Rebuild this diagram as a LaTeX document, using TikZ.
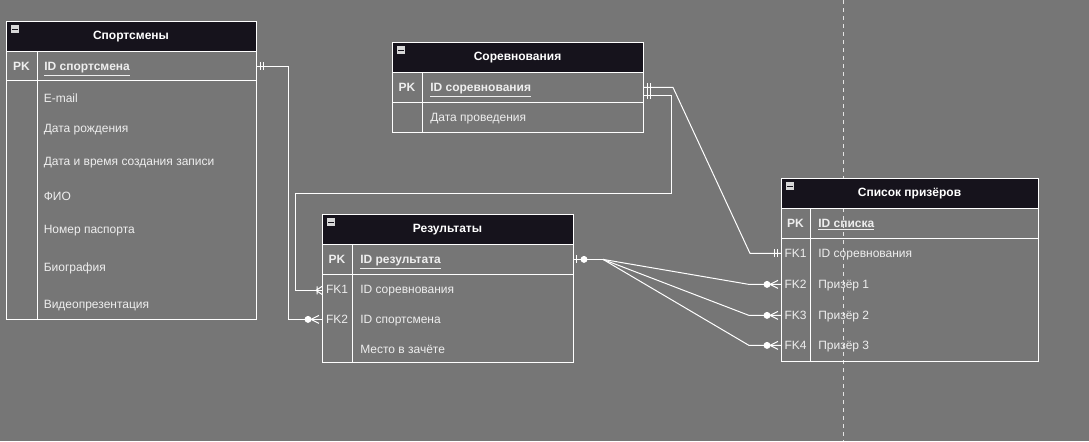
\documentclass[tikz,border=0pt]{standalone}
\usepackage{fontspec}
\setmainfont{Liberation Sans}
\usetikzlibrary{calc}
\definecolor{bggray}{RGB}{118,118,118}
\definecolor{hdrdark}{RGB}{22,19,28}
\definecolor{txtlight}{RGB}{238,238,238}
\definecolor{icongray}{RGB}{215,215,215}
\tikzset{
  tbl/.style={draw=white, line width=0.75pt},
  rel/.style={draw=white, line width=0.75pt},
  tbltitle/.style={font=\bfseries\fontsize{9}{11}\selectfont, text=white, inner sep=0pt},
  attr/.style={anchor=west, font=\fontsize{9}{11}\selectfont, text=txtlight, inner sep=0pt, text height=6.5pt, text depth=0pt},
  keylbl/.style={font=\bfseries\fontsize{9}{11}\selectfont, text=txtlight, inner sep=0pt, text height=6.5pt, text depth=0pt},
  fklbl/.style={keylbl, font=\fontsize{9}{11}\selectfont},
  mini/.pic={\fill[icongray] (5,4) rectangle (13,12); \fill[hdrdark] (6.3,7.3) rectangle (11.7,8.7);},
  mandone/.pic={\draw[rel] (4,-4) -- (4,4) (7,-4) -- (7,4);},
  zeroone/.pic={\draw[rel] (3,-4) -- (3,4); \fill[white] (11,0) circle [radius=2.6pt];},
  onemany/.pic={\draw[rel] (5,-4) -- (5,4) (6,0) -- (0,-4) (6,0) -- (0,4);},
  zeromany/.pic={\fill[white] (14,0) circle [radius=2.6pt]; \draw[rel] (11,0) -- (3,-4) (11,0) -- (3,4);}
}
\begin{document}
\begin{tikzpicture}[x=0.75pt,y=-0.75pt]
\fill[bggray] (0,0) rectangle (1089,441);
\draw[white!80!bggray, line width=0.6pt, dash pattern=on 3pt off 3pt] (843,0) -- (843,441);

% Спортсмены
\fill[hdrdark] (6,21) rectangle (256,51);
\draw[tbl] (6,21) rectangle (256,319) (6,51) -- (256,51) (6,80) -- (256,80) (37,51) -- (37,319);
\pic at (6,21) {mini};
\node[tbltitle] (sp-t) at (131,36) {Спортсмены};
\node[keylbl] (sp-pkl) at (21.5,66) {PK};
\node[attr] (sp-id) at (44,66) {\bfseries\underline{ID спортсмена}};
\foreach \t/\y [count=\i] in {E-mail/98, Дата рождения/128, Дата и время создания записи/161, ФИО/196, Номер паспорта/229, Биография/267, Видеопрезентация/304}
  \node[attr] (sp-a\i) at (43.5,\y) {\t};
\coordinate (sp-pk) at (256,66);

% Соревнования
\fill[hdrdark] (392,42) rectangle (643,72);
\draw[tbl] (392,42) rectangle (643,132) (392,72) -- (643,72) (392,102) -- (643,102) (422,72) -- (422,132);
\pic at (392,42) {mini};
\node[tbltitle] (sor-t) at (517.5,57) {Соревнования};
\node[keylbl] (sor-pkl) at (407,87) {PK};
\node[attr] (sor-id) at (430,87) {\bfseries\underline{ID соревнования}};
\node[attr] (sor-a1) at (430,117) {Дата проведения};
\coordinate (sor-pk) at (643,87);
\coordinate (sor-fk) at (643,95);

% Результаты
\fill[hdrdark] (322,214) rectangle (573,244);
\draw[tbl] (322,214) rectangle (573,362) (322,244) -- (573,244) (322,274) -- (573,274) (352,244) -- (352,362);
\pic at (322,214) {mini};
\node[tbltitle] (res-t) at (447.5,229) {Результаты};
\node[keylbl] (res-pkl) at (337,259) {PK};
\node[attr] (res-id) at (360,259) {\bfseries\underline{ID результата}};
\node[fklbl] (res-fk1l) at (337,289) {FK1};
\node[attr] (res-a1) at (360,289) {ID соревнования};
\node[fklbl] (res-fk2l) at (337,319) {FK2};
\node[attr] (res-a2) at (360,319) {ID спортсмена};
\node[attr] (res-a3) at (360,349) {Место в зачёте};
\coordinate (res-pk) at (573,259);
\coordinate (res-fk1) at (322,290);
\coordinate (res-fk2) at (322,319);

% Список призёров
\fill[hdrdark] (781,178) rectangle (1038,208);
\draw[tbl] (781,178) rectangle (1038,361) (781,208) -- (1038,208) (781,238) -- (1038,238) (810,208) -- (810,361);
\pic at (781,178) {mini};
\node[tbltitle] (prz-t) at (909.5,193) {Список призёров};
\node[keylbl] (prz-pkl) at (795.5,223) {PK};
\node[attr] (prz-id) at (818,223) {\bfseries\underline{ID списка}};
\foreach \f/\t/\y in {1/ID соревнования/253, 2/Призёр 1/284, 3/Призёр 2/315, 4/Призёр 3/345} {
  \node[fklbl] (prz-fk\f l) at (795.5,\y) {FK\f};
  \node[attr] (prz-a\f) at (818,\y) {\t};
  \coordinate (prz-fk\f) at (781,\y);
}

% связи
\draw[rel] (sp-pk) -- ++(32,0) |- (res-fk2);
\draw[rel] (sor-fk) -- ++(28,0) -- ++(0,98) -- ++(-376,0) |- (res-fk1);
\draw[rel] (sor-pk) -- ++(30,0) -- ($(prz-fk1)+(-31,0)$) -- (prz-fk1);
\coordinate (fan) at ($(res-pk)+(30,0)$);
\draw[rel] (res-pk) -- (fan);
\foreach \k in {2,3,4}
  \draw[rel] (fan) -- ($(prz-fk\k)+(-32,0)$) -- (prz-fk\k);

\pic at (sp-pk) {mandone};
\pic at (sor-pk) {mandone};
\pic at (sor-fk) {mandone};
\pic[xscale=-1] at (prz-fk1) {mandone};
\pic at (res-pk) {zeroone};
\pic[xscale=-1] at (res-fk1) {onemany};
\pic[xscale=-1] at (res-fk2) {zeromany};
\foreach \k in {2,3,4}
  \pic[xscale=-1] at (prz-fk\k) {zeromany};
\end{tikzpicture}
\end{document}
